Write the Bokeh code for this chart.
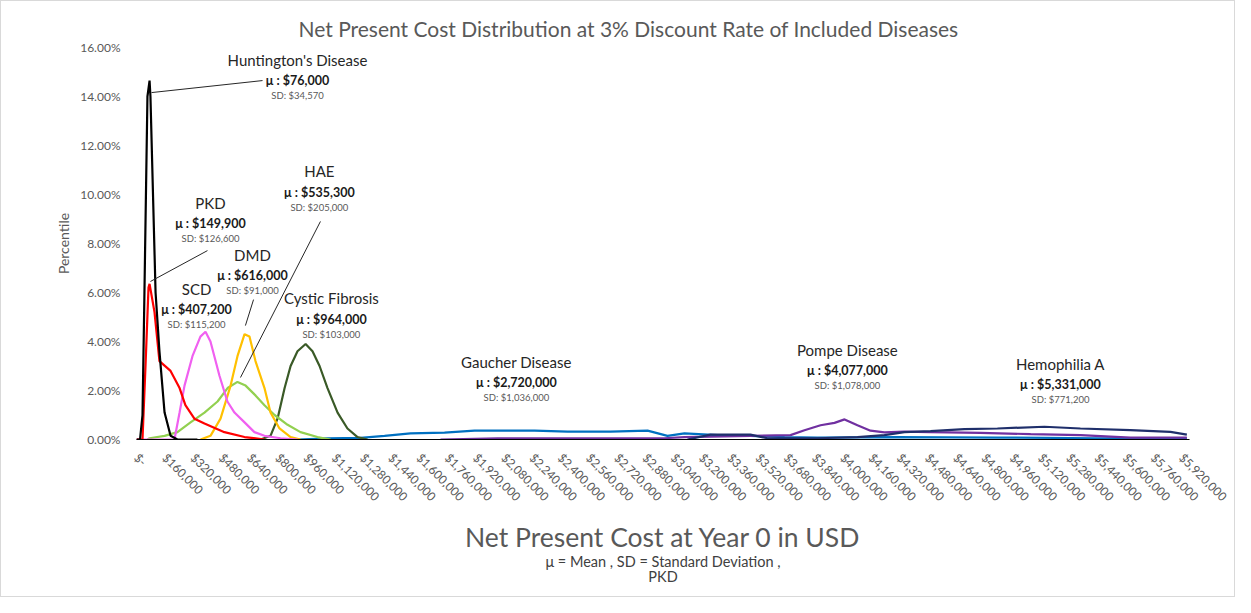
from bokeh.plotting import figure
from bokeh.models import Range1d, FixedTicker, Title
from bokeh.core.properties import value
from bokeh.embed import file_html
from bokeh.resources import INLINE

FONT = "Lato"

# ---------------- data (x: Net present cost in USD, y: percentile in %) ----------------
hd_x = [0, 20000, 34000, 45000, 62000, 74000, 79000, 108000, 130000, 159000, 193000, 232000, 345000]
hd_y = [0, 0, 1.0, 6.0, 14.0, 14.65, 14.0, 6.0, 3.6, 1.1, 0.15, 0, 0]

pkd_x = [0, 34000, 51000, 68000, 74000, 102000, 130000, 193000, 244000, 277000, 328000, 385000, 498000, 612000, 725000]
pkd_y = [0, 0, 3.0, 6.2, 6.35, 5.2, 3.2, 2.8, 2.1, 1.4, 0.85, 0.65, 0.3, 0.1, 0]

scd_x = [0, 215000, 244000, 272000, 317000, 362000, 391000, 419000, 470000, 515000, 555000, 612000, 668000, 725000, 816000, 912000]
scd_y = [0, 0, 1.1, 2.2, 3.4, 4.2, 4.4, 4.0, 2.6, 1.55, 1.1, 0.7, 0.3, 0.15, 0.05, 0]

dmd_x = [363000, 419000, 476000, 533000, 572000, 612000, 640000, 674000, 725000, 759000, 810000, 873000, 929000]
dmd_y = [0, 0.15, 0.85, 2.2, 3.4, 4.3, 4.2, 3.2, 2.1, 1.1, 0.45, 0.1, 0]

hae_x = [62000, 74000, 159000, 232000, 306000, 385000, 459000, 516000, 572000, 618000, 674000, 725000, 782000, 856000, 929000, 1025000, 1099000]
hae_y = [0, 0.05, 0.15, 0.3, 0.7, 1.1, 1.55, 2.1, 2.35, 2.2, 1.8, 1.4, 1.0, 0.6, 0.3, 0.1, 0]

cf_x = [703000, 759000, 799000, 839000, 873000, 912000, 958000, 997000, 1037000, 1082000, 1139000, 1195000, 1252000, 1309000]
cf_y = [0, 0.15, 0.85, 2.1, 3.0, 3.6, 3.9, 3.6, 3.0, 2.1, 1.1, 0.45, 0.1, 0]

gd_x = [912000, 1082000, 1269000, 1405000, 1552000, 1745000, 1915000, 2085000, 2255000, 2442000, 2685000,
        2895000, 3008000, 3104000, 3291000, 3478000, 3671000, 3857000, 4311000, 4877000, 5443000, 5950000]
gd_y = [0, 0.05, 0.07, 0.15, 0.25, 0.28, 0.36, 0.36, 0.36, 0.32, 0.32,
        0.36, 0.15, 0.25, 0.18, 0.15, 0.1, 0.08, 0.1, 0.08, 0.05, 0.05]

pd_x = [1722000, 2045000, 2725000, 2991000, 3104000, 3478000, 3705000, 3784000, 3875000, 3954000, 4011000,
        4084000, 4158000, 4237000, 4350000, 4498000, 4781000, 5065000, 5348000, 5631000, 5950000]
pd_y = [0, 0.05, 0.05, 0.05, 0.1, 0.15, 0.18, 0.38, 0.58, 0.68, 0.82,
        0.58, 0.36, 0.29, 0.32, 0.3, 0.27, 0.22, 0.18, 0.08, 0.08]

ha_x = [3121000, 3251000, 3478000, 3574000, 3857000, 4084000, 4237000, 4350000, 4498000, 4690000, 4877000,
        5143000, 5347000, 5630000, 5857000, 5950000]
ha_y = [0, 0.2, 0.2, 0.05, 0.05, 0.1, 0.18, 0.3, 0.34, 0.42, 0.45,
        0.52, 0.45, 0.38, 0.31, 0.2]

series = [
    (gd_x, gd_y, "#0070c0"),
    (pd_x, pd_y, "#7030a0"),
    (ha_x, ha_y, "#1f2f6b"),
    (cf_x, cf_y, "#3a5a27"),
    (hae_x, hae_y, "#92d050"),
    (dmd_x, dmd_y, "#ffc000"),
    (scd_x, scd_y, "#f060f0"),
    (pkd_x, pkd_y, "#ff0000"),
    (hd_x, hd_y, "#000000"),
]

# annotations
ann_name = ["Huntington's Disease", "PKD", "HAE", "DMD", "SCD", "Cystic Fibrosis",
            "Gaucher Disease", "Pompe Disease", "Hemophilia A"]
ann_mu = ["μ : $76,000", "μ : $149,900", "μ : $535,300", "μ : $616,000", "μ : $407,200", "μ : $964,000",
          "μ : $2,720,000", "μ : $4,077,000", "μ : $5,331,000"]
ann_sd = ["SD: $34,570", "SD: $126,600", "SD: $205,000", "SD: $91,000", "SD: $115,200", "SD: $103,000",
          "SD: $1,036,000", "SD: $1,078,000", "SD: $771,200"]
ann_x = [912000, 419000, 1036000, 657000, 340000, 1104000, 2152000, 4027000, 5234000]
ann_y = [15.51, 9.67, 10.94, 7.55, 6.16, 5.76, 3.18, 3.67, 3.10]

# leader lines
lead_x0 = [85000, 402000, 1042000, 663000]
lead_y0 = [14.16, 7.71, 8.90, 5.71]
lead_x1 = [714000, 79000, 589000, 617000]
lead_y1 = [14.65, 6.45, 2.53, 4.65]

x_tick_values = list(range(0, 5920001, 160000))
x_tick_labels = ["$-"] + ["${:,}".format(v) for v in x_tick_values[1:]]
y_tick_values = [0, 2, 4, 6, 8, 10, 12, 14, 16]
y_tick_labels = ["{:.2f}%".format(v) for v in y_tick_values]

footnote_lines = ["μ = Mean , SD = Standard Deviation ,", "PKD"]
footnote_standoffs = [-11, 3]

# ---------------- figure ----------------
p = figure(width=1235, height=597, output_backend="svg", toolbar_location=None,
           x_range=Range1d(0, 5965000), y_range=Range1d(0, 16),
           min_border_left=135, min_border_right=47, min_border_top=46, min_border_bottom=159)
p.outline_line_color = None
p.xgrid.visible = False
p.ygrid.visible = False
p.background_fill_color = "white"
p.border_fill_color = "white"
p.styles = {"border": "1px solid #d9d9d9"}

p.title.text = "Net Present Cost Distribution at 3% Discount Rate of Included Diseases"
p.title.align = "left"
p.title.offset = 162
p.title.standoff = 13
p.title.text_font = FONT
p.title.text_font_size = "21px"
p.title.text_font_style = "normal"
p.title.text_color = "#595959"

for xs, ys, c in series:
    p.line(xs, ys, line_color=c, line_width=2.2)

p.segment(x0=lead_x0, y0=lead_y0, x1=lead_x1, y1=lead_y1, line_color="#262626", line_width=1)

p.text(x=ann_x, y=ann_y, text=ann_name, text_font=value(FONT), text_font_size="15px",
       text_color="#262626", text_align="center", text_baseline="middle")
p.text(x=ann_x, y=ann_y, text=ann_mu, text_font=value(FONT), text_font_size="12.5px",
       text_font_style="bold", text_color="#1a1a1a", text_align="center", text_baseline="middle", y_offset=21)
p.text(x=ann_x, y=ann_y, text=ann_sd, text_font=value(FONT), text_font_size="9.5px",
       text_color="#595959", text_align="center", text_baseline="middle", y_offset=36)

# x axis
xa = p.xaxis[0]
xa.ticker = FixedTicker(ticks=x_tick_values)
xa.major_label_overrides = {v: s for v, s in zip(x_tick_values, x_tick_labels)}
xa.major_label_orientation = -0.785398
xa.major_label_text_font = FONT
xa.major_label_text_font_size = "12px"
xa.major_label_text_color = "#595959"
xa.major_label_standoff = 16
xa.major_tick_out = 0
xa.major_tick_line_color = None
xa.minor_tick_line_color = None
xa.axis_line_color = "#000000"
xa.axis_line_width = 1
xa.axis_label = "Net Present Cost at Year 0 in USD"
xa.axis_label_text_font = FONT
xa.axis_label_text_font_size = "26.5px"
xa.axis_label_text_font_style = "normal"
xa.axis_label_text_color = "#595959"
xa.axis_label_standoff = 9

# y axis
ya = p.yaxis[0]
ya.ticker = FixedTicker(ticks=y_tick_values)
ya.major_label_overrides = {v: s for v, s in zip(y_tick_values, y_tick_labels)}
ya.major_label_text_font = FONT
ya.major_label_text_font_size = "12px"
ya.major_label_text_color = "#595959"
ya.major_label_standoff = 16
ya.major_tick_out = 0
ya.major_tick_line_color = None
ya.minor_tick_line_color = None
ya.axis_line_color = None
ya.axis_label = "Percentile"
ya.axis_label_text_font = FONT
ya.axis_label_text_font_size = "14px"
ya.axis_label_text_font_style = "normal"
ya.axis_label_text_color = "#595959"
ya.axis_label_standoff = 5

# footnote lines under the axis title
for line, so in zip(footnote_lines, footnote_standoffs):
    p.add_layout(Title(text=line, align="center", standoff=so, text_font=FONT,
                       text_font_size="14.5px", text_font_style="normal",
                       text_color="#404040"), "below")

open("out.html", "w").write(file_html(p, INLINE))
